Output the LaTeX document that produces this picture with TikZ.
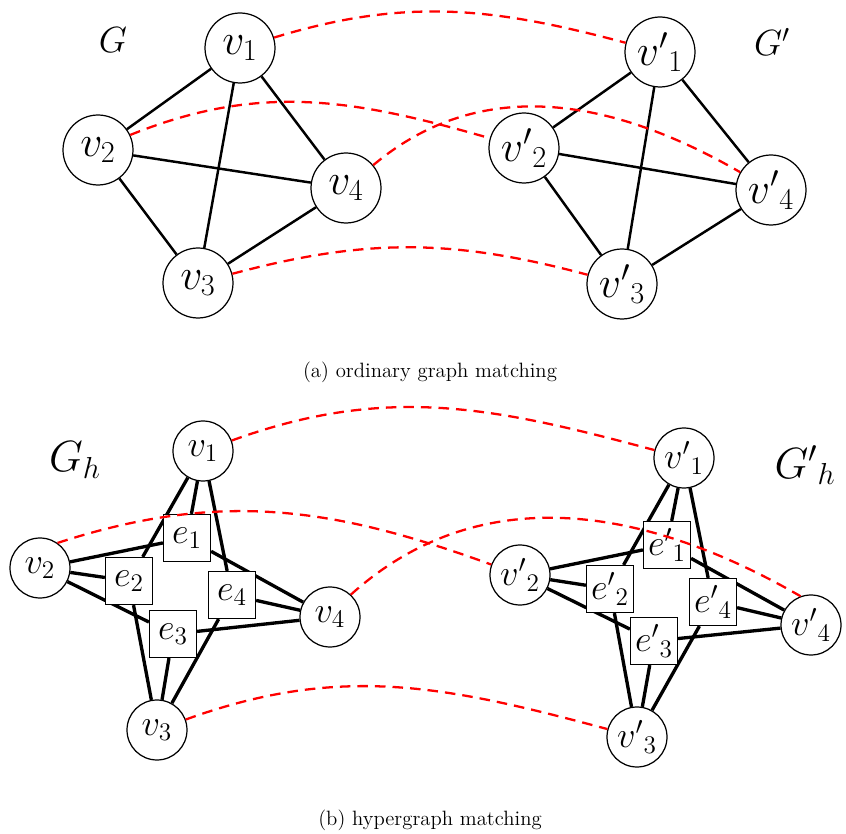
\documentclass[tikz,border=0pt]{standalone}
\usepackage{amsmath}
\usepackage{tikz}
\usetikzlibrary{positioning,backgrounds}
\tikzset{%
  vert/.style={draw,circle,fill=white,line width=0.7pt,inner sep=0pt},
  hedge/.style={draw,rectangle,fill=white,line width=0.7pt,inner sep=0pt,minimum size=9.4mm},
  link/.style={line width=1.4pt},
  match/.style={red,line width=1.3pt,dash pattern=on 6pt off 4pt}%
}

\begin{document}
\begin{tikzpicture}[
    x=0.02cm, y=-0.02cm,
    bigvert/.style={vert, minimum size=14mm, font=\fontsize{24}{28}\selectfont},
    smallvert/.style={vert, minimum size=12mm, font=\fontsize{21}{25}\selectfont},
    boxlabel/.style={hedge, font=\fontsize{21}{25}\selectfont},
    thicklink/.style={link, line width=1.9pt},
    caption/.style={font=\fontsize{11.8}{14}\selectfont}
]
\useasboundingbox (0,0) rectangle (846,834);

% (a) ordinary graphs
\node[bigvert] (a1) at (240,48) {$v_1$};
\node[bigvert] (a2) at (98,150) {$v_2$};
\node[bigvert] (a3) at (198,283) {$v_3$};
\node[bigvert] (a4) at (346,188) {$v_4$};
\node[font=\fontsize{20}{24}\selectfont] (g) at (113,40) {$G$};

\node[bigvert] (b1) at (660,52) {${v'}_1$};
\node[bigvert] (b2) at (524,148) {${v'}_2$};
\node[bigvert] (b3) at (622,284) {${v'}_3$};
\node[bigvert] (b4) at (771,190) {${v'}_4$};
\node[font=\fontsize{20}{24}\selectfont] (gp) at (772,42) {$G'$};

\begin{scope}[on background layer]
\draw[link] (a1) -- (a2);
\draw[link] (a1) -- (a3);
\draw[link] (a1) -- (a4);
\draw[link] (a2) -- (a3);
\draw[link] (a2) -- (a4);
\draw[link] (a3) -- (a4);
\draw[link] (b1) -- (b2);
\draw[link] (b1) -- (b3);
\draw[link] (b1) -- (b4);
\draw[link] (b2) -- (b3);
\draw[link] (b2) -- (b4);
\draw[link] (b3) -- (b4);
\end{scope}

\draw[match] (a1) to[out=17,in=165] (b1);
\draw[match] (a2.25) to[out=22,in=164] (b2);
\draw[match] (a4) to[out=40,in=150] (b4);
\draw[match] (a3) to[out=15,in=165] (b3);

\node[caption] (capa) at (430,372) {(a) ordinary graph matching};

% (b) hypergraphs
\node[smallvert] (h1) at (203,451) {$v_1$};
\node[smallvert] (h2) at (40,568) {$v_2$};
\node[smallvert] (h3) at (157,730) {$v_3$};
\node[smallvert] (h4) at (330,617) {$v_4$};
\node[boxlabel] (he1) at (187,538) {$e_1$};
\node[boxlabel] (he2) at (129,581) {$e_2$};
\node[boxlabel] (he3) at (173,634) {$e_3$};
\node[boxlabel] (he4) at (232,595) {$e_4$};
\node[font=\fontsize{26}{30}\selectfont] (gh) at (75,460) {$G_h$};

\node[smallvert] (k1) at (684,458) {${v'}_1$};
\node[smallvert] (k2) at (520,575) {${v'}_2$};
\node[smallvert] (k3) at (637,737) {${v'}_3$};
\node[smallvert] (k4) at (811,625) {${v'}_4$};
\node[boxlabel] (ke1) at (667,545) {${e'}_1$};
\node[boxlabel] (ke2) at (610,589) {${e'}_2$};
\node[boxlabel] (ke3) at (654,641) {${e'}_3$};
\node[boxlabel] (ke4) at (713,602) {${e'}_4$};
\node[font=\fontsize{26}{30}\selectfont] (ghp) at (805,465) {${G'}_h$};

\begin{scope}[on background layer]
\draw[thicklink] (h1) -- (he1);
\draw[thicklink] (h1) -- (he2);
\draw[thicklink] (h1) -- (he4);
\draw[thicklink] (h2) -- (he1);
\draw[thicklink] (h2) -- (he2);
\draw[thicklink] (h2) -- (he3);
\draw[thicklink] (h3) -- (he2);
\draw[thicklink] (h3) -- (he3);
\draw[thicklink] (h3) -- (he4);
\draw[thicklink] (h4) -- (he1);
\draw[thicklink] (h4) -- (he3);
\draw[thicklink] (h4) -- (he4);
\draw[thicklink] (k1) -- (ke1);
\draw[thicklink] (k1) -- (ke2);
\draw[thicklink] (k1) -- (ke4);
\draw[thicklink] (k2) -- (ke1);
\draw[thicklink] (k2) -- (ke2);
\draw[thicklink] (k2) -- (ke3);
\draw[thicklink] (k3) -- (ke2);
\draw[thicklink] (k3) -- (ke3);
\draw[thicklink] (k3) -- (ke4);
\draw[thicklink] (k4) -- (ke1);
\draw[thicklink] (k4) -- (ke3);
\draw[thicklink] (k4) -- (ke4);
\end{scope}

\draw[match] (h1) to[out=20,in=165] (k1);
\draw[match] (h2.55) to[out=18,in=160] (k2);
\draw[match] (h4.47) to[out=42,in=150] (k4.110);
\draw[match] (h3) to[out=20,in=165] (k3);

\node[caption] (capb) at (430,820) {(b) hypergraph matching};

\end{tikzpicture}
\end{document}
